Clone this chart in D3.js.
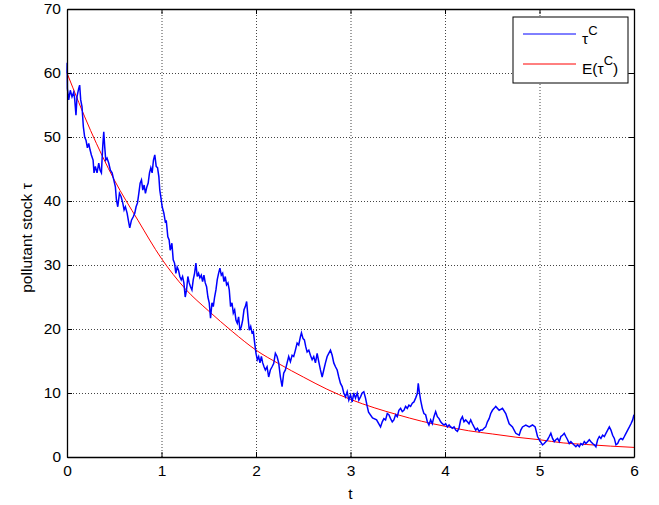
<html lang="en">
<head>
  <meta charset="UTF-8"/>
  <title>Pollutant stock</title>
  <script src="https://d3js.org/d3.v7.min.js"></script>
  <style>
body {
  margin: 0;
  background: #fff;
  font-family: 'Liberation Sans', Arial, sans-serif;
}

svg {
  display: block;
}

text {
  font-size: 15.5px;
  fill: #000;
}

.axis path, .axis line {
  stroke: #000;
}

.grid line {
  stroke: #444;
  stroke-dasharray: 1 2;
}

.grid path {
  stroke-width: 0;
}
  </style>
</head>
<body>
  <svg width="659" height="505"></svg>
  <script>

// tick labels
const xTicks = [0, 1, 2, 3, 4, 5, 6];
const yTicks = [0, 10, 20, 30, 40, 50, 60, 70];

// simulated path tau^C as [t, value]
const tauPath = [
  [0, 60.0], [0.002, 61.6], [0.004, 57.6], [0.018, 55.8], [0.035, 57.3], [0.053, 56.3],
  [0.071, 57.0], [0.081, 56.0], [0.095, 53.4], [0.106, 56.3], [0.124, 57.6], [0.134, 58.1],
  [0.145, 55.8], [0.159, 54.7], [0.173, 51.6], [0.187, 50.0], [0.201, 49.5], [0.216, 48.3],
  [0.230, 49.0], [0.244, 48.0], [0.258, 47.2], [0.276, 46.4], [0.286, 44.4], [0.300, 45.4],
  [0.318, 44.4], [0.336, 45.9], [0.350, 44.8], [0.364, 44.4], [0.378, 48.5], [0.389, 50.8],
  [0.399, 48.5], [0.410, 46.4], [0.424, 46.7], [0.442, 45.9], [0.459, 44.8], [0.477, 44.4],
  [0.495, 43.3], [0.512, 42.2], [0.523, 40.2], [0.537, 39.1], [0.555, 41.2], [0.572, 40.7],
  [0.590, 39.7], [0.604, 38.6], [0.618, 39.1], [0.636, 38.1], [0.654, 36.6], [0.664, 35.8],
  [0.682, 37.0], [0.700, 37.5], [0.717, 38.1], [0.731, 39.1], [0.746, 39.7], [0.760, 41.2],
  [0.774, 42.8], [0.788, 43.3], [0.802, 41.7], [0.816, 42.5], [0.830, 41.2], [0.845, 42.2],
  [0.859, 42.8], [0.873, 44.4], [0.887, 45.2], [0.901, 44.4], [0.915, 46.4], [0.929, 47.2],
  [0.944, 45.4], [0.958, 45.2], [0.972, 43.8], [0.982, 41.7], [0.997, 40.2], [1.007, 39.1],
  [1.025, 38.1], [1.042, 36.6], [1.050, 37.0], [1.067, 34.4], [1.081, 33.9], [1.092, 32.3],
  [1.110, 33.4], [1.124, 30.8], [1.138, 30.3], [1.152, 28.7], [1.166, 29.7], [1.180, 29.2],
  [1.194, 28.2], [1.209, 27.7], [1.223, 28.2], [1.237, 27.2], [1.251, 25.0], [1.265, 26.1],
  [1.279, 28.2], [1.293, 27.2], [1.307, 26.6], [1.322, 26.1], [1.336, 27.7], [1.350, 28.7],
  [1.364, 30.3], [1.378, 28.2], [1.392, 28.7], [1.406, 28.0], [1.421, 28.4], [1.435, 27.4],
  [1.449, 28.4], [1.463, 27.2], [1.477, 26.6], [1.491, 25.0], [1.505, 24.1], [1.519, 21.7],
  [1.534, 24.1], [1.548, 23.5], [1.562, 25.0], [1.576, 26.1], [1.590, 27.7], [1.604, 28.7],
  [1.618, 29.5], [1.633, 28.4], [1.647, 28.7], [1.661, 27.4], [1.675, 28.2], [1.689, 26.9],
  [1.703, 27.2], [1.717, 26.1], [1.731, 23.5], [1.746, 24.1], [1.760, 22.5], [1.774, 23.0],
  [1.788, 21.4], [1.802, 20.9], [1.816, 21.9], [1.830, 19.8], [1.845, 20.4], [1.859, 21.4],
  [1.873, 23.0], [1.887, 23.5], [1.901, 24.3], [1.915, 21.9], [1.929, 19.8], [1.944, 20.4],
  [1.958, 19.4], [1.972, 19.6], [1.986, 17.8], [2.000, 16.2], [2.014, 15.2], [2.028, 15.7],
  [2.042, 14.7], [2.057, 15.7], [2.071, 14.7], [2.085, 14.1], [2.099, 13.6], [2.117, 14.1],
  [2.134, 12.5], [2.152, 13.6], [2.170, 14.1], [2.187, 14.6], [2.205, 16.2], [2.223, 15.7],
  [2.240, 14.7], [2.258, 12.5], [2.276, 11.0], [2.293, 13.1], [2.311, 13.6], [2.329, 14.7],
  [2.346, 15.7], [2.364, 14.9], [2.382, 15.9], [2.399, 15.7], [2.417, 16.7], [2.435, 17.8],
  [2.452, 17.5], [2.470, 18.8], [2.481, 19.4], [2.498, 18.5], [2.512, 18.3], [2.527, 17.2],
  [2.541, 16.4], [2.559, 16.7], [2.576, 15.9], [2.594, 15.2], [2.611, 15.7], [2.629, 14.7],
  [2.647, 16.2], [2.664, 14.9], [2.682, 13.6], [2.700, 12.5], [2.717, 13.6], [2.735, 14.7],
  [2.753, 15.7], [2.770, 16.2], [2.788, 16.7], [2.806, 15.9], [2.823, 14.7], [2.841, 14.1],
  [2.859, 13.6], [2.876, 12.5], [2.894, 11.5], [2.912, 11.0], [2.929, 10.0], [2.947, 9.4],
  [2.965, 10.2], [2.982, 8.9], [3.000, 9.7], [3.018, 8.6], [3.035, 10.0], [3.053, 9.2],
  [3.071, 10.0], [3.088, 8.9], [3.106, 9.4], [3.124, 10.0], [3.141, 10.2], [3.159, 9.2],
  [3.177, 7.9], [3.191, 7.0], [3.233, 6.1], [3.276, 5.8], [3.318, 4.7], [3.336, 5.5],
  [3.353, 6.0], [3.371, 5.8], [3.389, 6.8], [3.406, 6.6], [3.424, 6.0], [3.442, 5.5],
  [3.459, 5.8], [3.477, 6.6], [3.495, 6.3], [3.512, 7.3], [3.530, 7.6], [3.548, 7.1],
  [3.565, 7.3], [3.583, 7.9], [3.601, 7.6], [3.618, 8.1], [3.636, 7.9], [3.654, 8.4],
  [3.671, 8.6], [3.689, 9.2], [3.707, 9.9], [3.717, 11.5], [3.728, 10.2], [3.742, 8.9],
  [3.760, 7.6], [3.777, 6.8], [3.795, 6.6], [3.813, 5.5], [3.830, 5.0], [3.848, 5.8],
  [3.866, 5.2], [3.883, 6.3], [3.901, 7.1], [3.919, 6.3], [3.937, 6.0], [3.954, 5.5],
  [3.972, 5.2], [3.990, 5.0], [4.007, 5.2], [4.025, 4.7], [4.043, 5.0], [4.060, 4.7],
  [4.078, 4.5], [4.096, 4.7], [4.113, 4.2], [4.131, 4.0], [4.148, 4.5], [4.166, 5.8],
  [4.184, 6.3], [4.201, 5.5], [4.219, 5.8], [4.237, 5.5], [4.254, 5.2], [4.272, 5.8],
  [4.290, 5.2], [4.307, 4.7], [4.325, 4.2], [4.343, 4.5], [4.361, 4.0], [4.378, 4.2],
  [4.396, 4.2], [4.414, 4.5], [4.431, 4.7], [4.449, 5.5], [4.467, 6.0], [4.484, 6.8],
  [4.502, 7.3], [4.520, 7.6], [4.537, 7.9], [4.573, 7.3], [4.608, 7.6], [4.643, 6.8],
  [4.679, 5.2], [4.714, 4.7], [4.749, 3.7], [4.785, 3.4], [4.802, 4.2], [4.820, 4.7],
  [4.855, 5.0], [4.891, 4.7], [4.926, 5.0], [4.954, 4.7], [4.979, 3.2], [4.997, 2.7],
  [5.032, 1.9], [5.050, 2.1], [5.085, 2.7], [5.103, 3.2], [5.120, 3.7], [5.138, 2.9],
  [5.156, 2.4], [5.173, 2.7], [5.191, 2.9], [5.209, 2.4], [5.226, 3.2], [5.244, 3.4],
  [5.262, 3.7], [5.279, 3.2], [5.297, 2.7], [5.315, 2.1], [5.332, 2.4], [5.350, 2.1],
  [5.385, 1.6], [5.403, 1.9], [5.421, 1.6], [5.438, 2.1], [5.456, 1.9], [5.474, 2.4],
  [5.491, 2.1], [5.509, 2.4], [5.527, 2.7], [5.544, 2.4], [5.562, 2.1], [5.580, 1.9],
  [5.597, 1.6], [5.615, 2.7], [5.633, 3.2], [5.650, 2.9], [5.668, 3.4], [5.686, 3.2],
  [5.703, 3.7], [5.721, 4.2], [5.739, 4.7], [5.756, 4.2], [5.774, 3.4], [5.792, 2.9],
  [5.809, 1.9], [5.827, 2.1], [5.845, 2.7], [5.862, 2.9], [5.880, 2.7], [5.898, 3.2],
  [5.915, 3.7], [5.933, 4.2], [5.951, 4.7], [5.968, 5.2], [5.986, 5.8], [6.000, 6.6]
];

// expected value E(tau^C)
const expT = [0, 0.25, 0.5, 0.75, 1, 1.25, 1.5, 1.75, 2, 2.25, 2.5, 2.75, 3,
  3.25, 3.5, 3.75, 4, 4.25, 4.5, 4.75, 5, 5.25, 5.5, 5.75, 6];
const expV = [60.0, 51.0, 43.3, 37.0, 31.0, 26.3, 22.8, 19.6, 16.7, 14.5, 12.5, 10.6, 9.0,
  7.7, 6.6, 5.6, 4.8, 4.1, 3.6, 3.1, 2.7, 2.2, 1.95, 1.7, 1.5];

const legendLabels = ['\u03C4', 'E(\u03C4'];

const svg = d3.select('svg');
const marginLeft = 67, marginTop = 9, width = 567, height = 448;

const x = d3.scaleLinear().domain([0, 6]).range([0, width]);
const y = d3.scaleLinear().domain([0, 70]).range([height, 0]);

const chart = svg.append('g')
  .attr('transform', `translate(${marginLeft}, ${marginTop})`);

// dotted grid
chart.append('g')
  .attr('class', 'grid')
  .attr('transform', `translate(0, ${height})`)
  .call(d3.axisBottom(x).tickValues(xTicks.slice(1, -1)).tickSize(-height).tickFormat(''));

chart.append('g')
  .attr('class', 'grid')
  .call(d3.axisLeft(y).tickValues(yTicks.slice(1, -1)).tickSize(-width).tickFormat(''));

const line = d3.line()
  .x(d => x(d[0]))
  .y(d => y(d[1]));

chart.append('path')
  .datum(expT.map((t, i) => [t, expV[i]]))
  .attr('fill', 'none')
  .attr('stroke', '#ff0000')
  .attr('stroke-width', 1)
  .attr('d', line.curve(d3.curveMonotoneX));

chart.append('path')
  .datum(tauPath)
  .attr('fill', 'none')
  .attr('stroke', '#0000ff')
  .attr('stroke-width', 1.5)
  .attr('d', line.curve(d3.curveLinear));

// box with inward ticks
chart.append('g')
  .attr('class', 'axis')
  .attr('transform', `translate(0, ${height})`)
  .call(d3.axisBottom(x).tickValues(xTicks).tickSize(-5).tickSizeOuter(0).tickPadding(8)
    .tickFormat(d3.format('d')))
  .call(g => g.selectAll('text').style('font-size', '15.5px').attr('font-family', null));

chart.append('g')
  .attr('class', 'axis')
  .call(d3.axisTop(x).tickValues(xTicks).tickSize(-5).tickSizeOuter(0).tickFormat(''));

chart.append('g')
  .attr('class', 'axis')
  .call(d3.axisLeft(y).tickValues(yTicks).tickSize(-5).tickSizeOuter(0).tickPadding(6))
  .call(g => g.selectAll('text').style('font-size', '15.5px').attr('font-family', null));

chart.append('g')
  .attr('class', 'axis')
  .attr('transform', `translate(${width}, 0)`)
  .call(d3.axisRight(y).tickValues(yTicks).tickSize(-5).tickSizeOuter(0).tickFormat(''));

chart.selectAll('.axis .domain').attr('stroke-width', 1.3);

// axis titles
svg.append('text')
  .attr('x', marginLeft + width / 2)
  .attr('y', 499)
  .attr('text-anchor', 'middle')
  .text('t');

svg.append('text')
  .attr('transform', 'translate(32, 238) rotate(-90)')
  .attr('text-anchor', 'middle')
  .text('pollutant stock \u03C4');

// legend
const legend = svg.append('g')
  .attr('transform', 'translate(513, 17)');

legend.append('rect')
  .attr('width', 115)
  .attr('height', 66)
  .attr('fill', '#fff')
  .attr('stroke', '#000')
  .attr('stroke-width', 1);

const colors = ['#0000ff', '#ff0000'];
const rows = legend.selectAll('g.row')
  .data(legendLabels)
  .enter()
  .append('g')
  .attr('class', 'row')
  .attr('transform', (d, i) => `translate(0, ${17 + i * 30})`);

rows.append('line')
  .attr('x1', 10)
  .attr('x2', 63)
  .attr('stroke', (d, i) => colors[i])
  .attr('stroke-width', 1);

const label = rows.append('text')
  .attr('x', 69)
  .attr('y', 10);
label.append('tspan').text(d => d);
label.append('tspan')
  .attr('dy', -9)
  .style('font-size', '13px')
  .text('C');
label.append('tspan')
  .attr('dy', 9)
  .text((d, i) => i === 1 ? ')' : '');

    </script>
</body>
</html>
